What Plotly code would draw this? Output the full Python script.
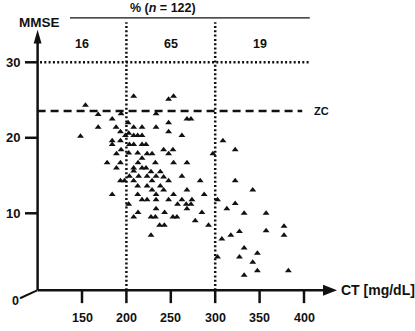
import plotly.graph_objects as go

# ---- data ----
ct = [153.9, 148.3, 168.2, 168.2, 184.0, 188.4, 193.3, 194.0, 184.0, 184.0,
      193.3, 194.0, 188.8, 178.3, 193.3, 188.8, 193.3, 197.8, 184.0, 198.9,
      201.9, 202.6, 208.2, 217.6, 233.4, 208.2, 212.7, 217.6, 203.4, 208.2,
      217.6, 222.1, 202.6, 212.7, 223.3, 228.9, 217.6, 213.1, 232.6, 208.2,
      217.6, 222.1, 208.2, 203.4, 213.8, 223.3, 227.7, 233.4, 238.2, 208.2,
      228.9, 247.5, 241.9, 212.7, 223.3, 238.2, 228.9, 241.9, 212.7, 233.4,
      253.1, 202.6, 217.6, 223.3, 233.4, 247.5, 257.6, 262.5, 233.4, 243.0,
      267.4, 268.2, 208.2, 213.1, 227.7, 232.6, 252.4, 256.9, 277.5, 285.0,
      237.4, 242.7, 227.7, 292.5, 268.2, 273.8, 272.7, 283.1, 287.6, 262.5,
      268.2, 253.1, 247.5, 252.4, 241.9, 247.5, 247.5, 262.5, 233.4, 268.2,
      272.7, 208.2, 247.5, 253.1, 297.4,
      308.7, 322.5, 322.5, 342.3, 302.6, 313.1, 322.5, 332.6, 357.3, 307.5,
      317.6, 327.3, 357.3, 377.5, 377.5, 302.6, 332.6, 347.5, 327.3, 342.3,
      332.6, 347.5, 382.4]
mmse = [24.3, 20.2, 23.1, 21.4, 22.5, 21.4, 20.8, 23.2, 19.6, 19.1,
        19.6, 18.4, 17.9, 16.7, 16.7, 16.0, 14.3, 14.3, 12.5, 20.3,
        22.0, 20.6, 21.4, 21.4, 21.4, 20.3, 20.3, 20.3, 19.1, 19.1,
        19.1, 19.1, 18.0, 18.0, 17.9, 17.9, 17.3, 16.7, 16.7, 16.0,
        16.0, 16.0, 15.6, 14.9, 14.9, 14.9, 15.5, 14.9, 15.5, 14.3,
        14.3, 14.3, 14.8, 13.6, 13.6, 13.6, 13.1, 13.1, 12.5, 12.5,
        12.5, 11.2, 11.8, 11.8, 11.8, 11.8, 11.2, 11.8, 10.6, 10.1,
        11.2, 10.6, 9.5, 10.1, 9.5, 9.5, 9.5, 9.5, 9.0, 10.1,
        8.4, 8.4, 7.1, 8.4, 13.1, 11.8, 11.2, 14.3, 12.5, 14.9,
        16.7, 16.7, 17.9, 18.4, 18.4, 20.8, 22.0, 20.3, 23.2, 22.5,
        22.5, 25.5, 25.1, 25.5, 17.9,
        19.6, 18.4, 14.3, 13.1, 11.8, 10.6, 11.3, 10.0, 10.0, 6.6,
        7.1, 7.6, 7.7, 8.3, 7.1, 4.2, 5.4, 4.7, 4.2, 3.5,
        1.8, 2.4, 2.4]

x_ticks = [150, 200, 250, 300, 350, 400]
y_ticks = [10, 20, 30]
cut_points = [200, 300]
group_pct = ["16", "65", "19"]
group_centers = [150, 250, 350]
zc_value = 23.55
n_total = 122

FONT = "Liberation Sans, Arial, sans-serif"
BLACK = "#111111"

fig = go.Figure()
fig.add_trace(go.Scatter(
    x=ct, y=mmse, mode="markers",
    marker=dict(symbol="triangle-up", size=6, color=BLACK, line=dict(width=0)),
    hoverinfo="skip", showlegend=False, cliponaxis=False))

shapes = []
# axes
shapes.append(dict(type="line", x0=100, x1=100, y0=-0.2, y1=33.0,
                   line=dict(color=BLACK, width=2.5)))
shapes.append(dict(type="path", path="M 95.6,32.5 L 104.4,32.5 L 100,34.3 Z",
                   fillcolor=BLACK, line=dict(width=0)))
shapes.append(dict(type="line", x0=100, x1=424, y0=-0.2, y1=-0.2,
                   line=dict(color=BLACK, width=2.5)))
shapes.append(dict(type="path", path="M 421.4,0.53 L 421.4,-0.93 L 437.2,-0.2 Z",
                   fillcolor=BLACK, line=dict(width=0)))
# x ticks
for t in x_ticks:
    shapes.append(dict(type="line", x0=t, x1=t, y0=-0.2, y1=-1.9,
                       line=dict(color=BLACK, width=2.5)))
# y ticks
for t in y_ticks:
    shapes.append(dict(type="line", x0=85.8, x1=100, y0=t, y1=t,
                       line=dict(color=BLACK, width=2.5)))
# slanted zero tick
shapes.append(dict(type="line", x0=80.2, x1=99.5, y0=-1.25, y1=-0.2,
                   line=dict(color=BLACK, width=2)))
# cut-point dotted verticals
for c in cut_points:
    shapes.append(dict(type="line", x0=c, x1=c, y0=-0.2, y1=35.3,
                       line=dict(color=BLACK, width=2.5, dash="2px,2.3px")))
# dotted 30 line
shapes.append(dict(type="line", x0=102.7, x1=406.5, y0=30, y1=30,
                   line=dict(color=BLACK, width=2.5, dash="2px,2.3px")))
# ZC dashed line
shapes.append(dict(type="line", x0=100, x1=398, y0=zc_value, y1=zc_value,
                   line=dict(color=BLACK, width=2.5, dash="8px,5px")))
# top header line
shapes.append(dict(type="line", x0=136.5, x1=406.5, y0=35.87, y1=35.87,
                   line=dict(color=BLACK, width=1.2)))

ann = []
def txt(x, y, s, size, xanchor="center"):
    ann.append(dict(x=x, y=y, text=s, showarrow=False, xanchor=xanchor, yanchor="middle",
                    font=dict(family=FONT, size=size, color=BLACK, weight="bold")))

for t in x_ticks:
    txt(t, -3.85, str(t), 12.5)
for t in y_ticks:
    txt(82.5, t, str(t), 13, xanchor="right")
txt(75, -1.65, "0", 12.5)
for c, p in zip(group_centers, group_pct):
    txt(c, 32.4, p, 12.5)
txt(241, 37.2, "% (<i>n</i> = " + str(n_total) + ")", 12.5)
txt(102.5, 35.25, "MMSE", 13.5)
txt(409, zc_value, "ZC", 11, xanchor="left")
txt(439.5, -0.1, "CT [mg/dL]", 14, xanchor="left")

fig.update_layout(
    width=415, height=331,
    margin=dict(l=0, r=0, t=0, b=0),
    paper_bgcolor="white", plot_bgcolor="white",
    xaxis=dict(range=[57.66, 525.0], visible=False, fixedrange=True),
    yaxis=dict(range=[-5.59, 38.25], visible=False, fixedrange=True),
    shapes=shapes, annotations=ann, showlegend=False,
)
fig.write_html("out.html", config={"displayModeBar": False, "staticPlot": True},
               post_script="document.body.style.margin='0px';")
